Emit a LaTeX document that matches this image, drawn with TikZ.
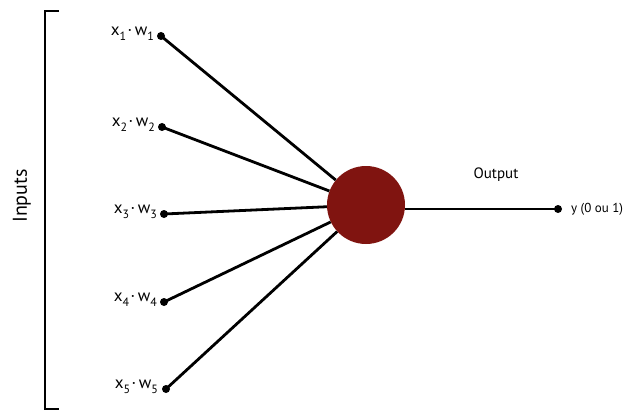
\documentclass[tikz,border=0pt]{standalone}
\usepackage{fontspec}
\setmainfont{PT Sans}
\newcommand{\sbx}[1]{\raisebox{-5pt}{\fontsize{12}{12}\selectfont #1}}
\newcommand{\xw}[1]{x\sbx{#1}\kern1.5pt·\kern2.5pt w\sbx{#1}}
\begin{document}
\begin{tikzpicture}[x=1pt,y=-1pt,
  conn/.style={line width=2.8pt},
  dotnode/.style={circle,fill=black,inner sep=0pt,minimum size=8pt},
  lbl/.style={anchor=east,font=\fontsize{17}{19}\selectfont,inner sep=0pt},
  neuron/.style={circle,fill={rgb,255:red,128;green,20;blue,16},inner sep=0pt,minimum size=78pt}]
\useasboundingbox (0,0) rectangle (630,412);
\draw[line width=2.8pt] (59,11) -- (45,11) -- (45,409) -- (59,409);
\node[rotate=90,font=\fontsize{20}{22}\selectfont] (inp) at (22,196) {Inputs};
\node[neuron] (n) at (366,205) {};
\node[dotnode] (d1) at (161,36) {};
\node[dotnode] (d2) at (162,127) {};
\node[dotnode] (d3) at (164,214) {};
\node[dotnode] (d4) at (164,302) {};
\node[dotnode] (d5) at (166,389) {};
\node[lbl] (l1) at (154,34) {\xw{1}};
\node[lbl] (l2) at (155,125) {\xw{2}};
\node[lbl] (l3) at (157,212) {\xw{3}};
\node[lbl] (l4) at (157,300) {\xw{4}};
\node[lbl] (l5) at (158,387) {\xw{5}};
\foreach \i in {1,...,5} \draw[conn] (d\i.center) -- (n);
\node[dotnode] (out) at (558,209) {};
\draw[conn] (n.east |- out) -- (out.center);
\node[anchor=west,font=\fontsize{13}{15}\selectfont,inner sep=0pt] (y) at (571,209) {y (0 ou 1)};
\node[font=\fontsize{15}{17}\selectfont] (o) at (496,175) {Output};
\end{tikzpicture}
\end{document}
